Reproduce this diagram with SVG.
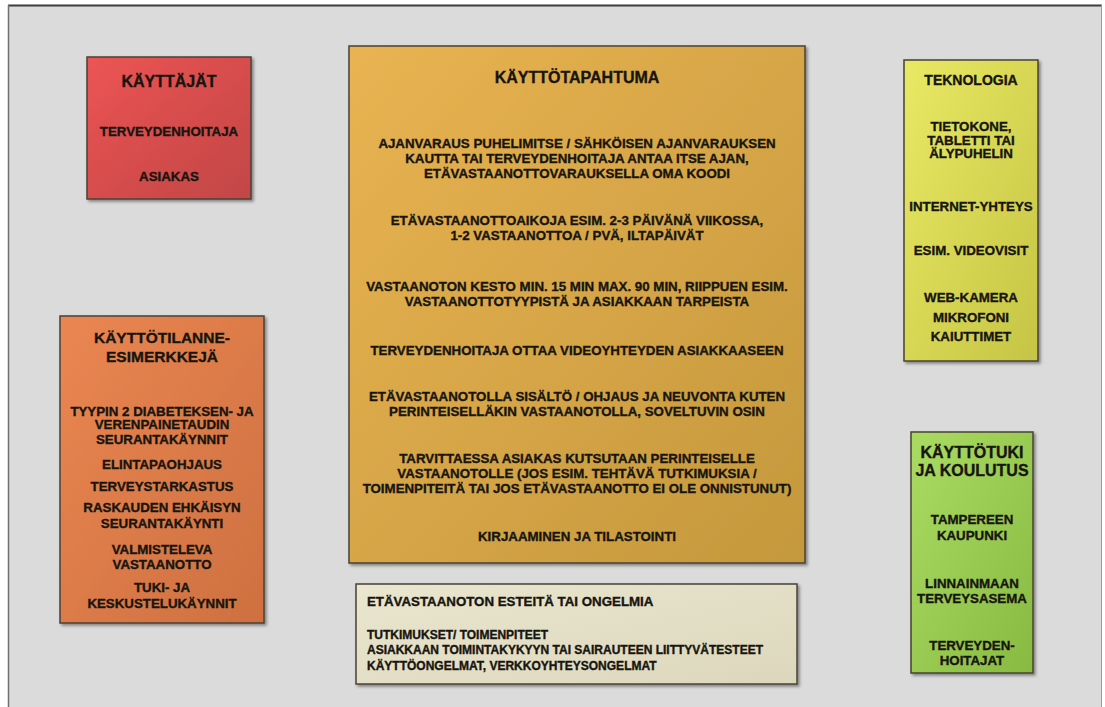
<svg xmlns="http://www.w3.org/2000/svg" width="1105" height="707" viewBox="0 0 1105 707">
  <style>
    text { font-family: "Liberation Sans", Arial, sans-serif; font-weight: bold; fill: #17150f; stroke: #17150f; stroke-width: 0.35; }
    .t { font-size: 16px; text-anchor: middle; }
    .b { font-size: 13.3px; text-anchor: middle; }
    .s { font-size: 12px; }
    .box { stroke: #4a4236; stroke-width: 1.5; filter: url(#shadow); }
  </style>
  <defs>
    <filter id="shadow" x="-5%" y="-5%" width="115%" height="115%">
      <feDropShadow dx="2" dy="2" stdDeviation="1.5" flood-color="#000" flood-opacity="0.4"/>
    </filter>
    <linearGradient id="gRed" x1="0" y1="0" x2="1" y2="1">
      <stop offset="0" stop-color="#ec5454"/>
      <stop offset="1" stop-color="#c24646"/>
    </linearGradient>
    <linearGradient id="gOrange" x1="0" y1="0" x2="1" y2="1">
      <stop offset="0" stop-color="#ea8652"/>
      <stop offset="1" stop-color="#ce7040"/>
    </linearGradient>
    <linearGradient id="gGold" x1="0" y1="0" x2="1" y2="1">
      <stop offset="0" stop-color="#e9b352"/>
      <stop offset="1" stop-color="#c4983c"/>
    </linearGradient>
    <linearGradient id="gYellow" x1="0" y1="0" x2="1" y2="1">
      <stop offset="0" stop-color="#e9e964"/>
      <stop offset="1" stop-color="#c6c444"/>
    </linearGradient>
    <linearGradient id="gGreen" x1="0" y1="0" x2="1" y2="1">
      <stop offset="0" stop-color="#aadb62"/>
      <stop offset="1" stop-color="#88ba42"/>
    </linearGradient>
    <linearGradient id="gBeige" x1="0" y1="0" x2="1" y2="1">
      <stop offset="0" stop-color="#eae6cf"/>
      <stop offset="1" stop-color="#dcd7bc"/>
    </linearGradient>
  </defs>

  <!-- page and frame -->
  <rect x="0" y="0" width="1105" height="707" fill="#ffffff"/>
  <rect x="8" y="5" width="1094" height="702" fill="#dbdbdb"/>
  <line x1="8" y1="5.5" x2="1102" y2="5.5" stroke="#3c3c3c" stroke-width="2"/>
  <line x1="8.5" y1="5" x2="8.5" y2="707" stroke="#707070" stroke-width="1.5"/>
  <line x1="1101.5" y1="5" x2="1101.5" y2="707" stroke="#9a9a9a" stroke-width="1"/>

  <g id="kayttajat">
    <rect class="box" x="87" y="57" width="164" height="142" fill="url(#gRed)"/>
    <text class="t" x="169" y="87">KÄYTTÄJÄT</text>
    <text class="b" x="169" y="136">TERVEYDENHOITAJA</text>
    <text class="b" x="169" y="181">ASIAKAS</text>
  </g>

  <g id="kayttotilanne">
    <rect class="box" x="60" y="316" width="204" height="307" fill="url(#gOrange)"/>
    <text class="t" x="162" y="343" style="font-size:15.5px">KÄYTTÖTILANNE-</text>
    <text class="t" x="162" y="362" style="font-size:15.5px">ESIMERKKEJÄ</text>
    <text class="b" x="162" y="416">TYYPIN 2 DIABETEKSEN-  JA</text>
    <text class="b" x="162" y="429">VERENPAINETAUDIN</text>
    <text class="b" x="162" y="444">SEURANTAKÄYNNIT</text>
    <text class="b" x="162" y="469">ELINTAPAOHJAUS</text>
    <text class="b" x="162" y="491">TERVEYSTARKASTUS</text>
    <text class="b" x="162" y="512">RASKAUDEN  EHKÄISYN</text>
    <text class="b" x="162" y="528">SEURANTAKÄYNTI</text>
    <text class="b" x="162" y="554">VALMISTELEVA</text>
    <text class="b" x="162" y="569">VASTAANOTTO</text>
    <text class="b" x="162" y="592">TUKI- JA</text>
    <text class="b" x="162" y="608">KESKUSTELUKÄYNNIT</text>
  </g>

  <g id="kayttotapahtuma">
    <rect class="box" x="349" y="46" width="456" height="517" fill="url(#gGold)"/>
    <text class="t" x="577" y="83">KÄYTTÖTAPAHTUMA</text>
    <text class="b" x="577" y="148">AJANVARAUS PUHELIMITSE / SÄHKÖISEN AJANVARAUKSEN</text>
    <text class="b" x="577" y="163">KAUTTA TAI TERVEYDENHOITAJA ANTAA ITSE AJAN,</text>
    <text class="b" x="577" y="178">ETÄVASTAANOTTOVARAUKSELLA OMA KOODI</text>
    <text class="b" x="577" y="225">ETÄVASTAANOTTOAIKOJA ESIM. 2-3 PÄIVÄNÄ VIIKOSSA,</text>
    <text class="b" x="577" y="240">1-2 VASTAANOTTOA / PVÄ, ILTAPÄIVÄT</text>
    <text class="b" x="577" y="291">VASTAANOTON KESTO MIN. 15 MIN MAX. 90 MIN, RIIPPUEN ESIM.</text>
    <text class="b" x="577" y="306">VASTAANOTTOTYYPISTÄ JA ASIAKKAAN TARPEISTA</text>
    <text class="b" x="577" y="355">TERVEYDENHOITAJA OTTAA VIDEOYHTEYDEN ASIAKKAASEEN</text>
    <text class="b" x="577" y="401">ETÄVASTAANOTOLLA SISÄLTÖ / OHJAUS JA NEUVONTA KUTEN</text>
    <text class="b" x="577" y="416">PERINTEISELLÄKIN VASTAANOTOLLA, SOVELTUVIN OSIN</text>
    <text class="b" x="577" y="463">TARVITTAESSA ASIAKAS KUTSUTAAN PERINTEISELLE</text>
    <text class="b" x="577" y="478">VASTAANOTOLLE (JOS ESIM. TEHTÄVÄ TUTKIMUKSIA /</text>
    <text class="b" x="577" y="493">TOIMENPITEITÄ TAI JOS ETÄVASTAANOTTO EI OLE ONNISTUNUT)</text>
    <text class="b" x="577" y="541">KIRJAAMINEN JA TILASTOINTI</text>
  </g>

  <g id="esteet">
    <rect class="box" x="356" y="584" width="441" height="100" fill="url(#gBeige)"/>
    <text x="367" y="606" style="font-size:13.3px">ETÄVASTAANOTON ESTEITÄ TAI ONGELMIA</text>
    <text class="s" x="367" y="639">TUTKIMUKSET/ TOIMENPITEET</text>
    <text class="s" x="367" y="654">ASIAKKAAN TOIMINTAKYKYYN TAI SAIRAUTEEN LIITTYVÄTESTEET</text>
    <text class="s" x="367" y="670">KÄYTTÖONGELMAT, VERKKOYHTEYSONGELMAT</text>
  </g>

  <g id="teknologia">
    <rect class="box" x="904" y="60" width="134" height="301" fill="url(#gYellow)"/>
    <text class="t" x="971" y="85" style="font-size:14px">TEKNOLOGIA</text>
    <text class="b" x="971" y="131">TIETOKONE,</text>
    <text class="b" x="971" y="145">TABLETTI TAI</text>
    <text class="b" x="971" y="158">ÄLYPUHELIN</text>
    <text class="b" x="971" y="211">INTERNET-YHTEYS</text>
    <text class="b" x="971" y="255">ESIM. VIDEOVISIT</text>
    <text class="b" x="971" y="302">WEB-KAMERA</text>
    <text class="b" x="971" y="322">MIKROFONI</text>
    <text class="b" x="971" y="341">KAIUTTIMET</text>
  </g>

  <g id="kayttotuki">
    <rect class="box" x="911" y="432" width="122" height="241" fill="url(#gGreen)"/>
    <text class="t" x="972" y="458">KÄYTTÖTUKI</text>
    <text class="t" x="972" y="476">JA KOULUTUS</text>
    <text class="b" x="972" y="524">TAMPEREEN</text>
    <text class="b" x="972" y="540">KAUPUNKI</text>
    <text class="b" x="972" y="588">LINNAINMAAN</text>
    <text class="b" x="972" y="603">TERVEYSASEMA</text>
    <text class="b" x="972" y="650">TERVEYDEN-</text>
    <text class="b" x="972" y="665">HOITAJAT</text>
  </g>
</svg>
